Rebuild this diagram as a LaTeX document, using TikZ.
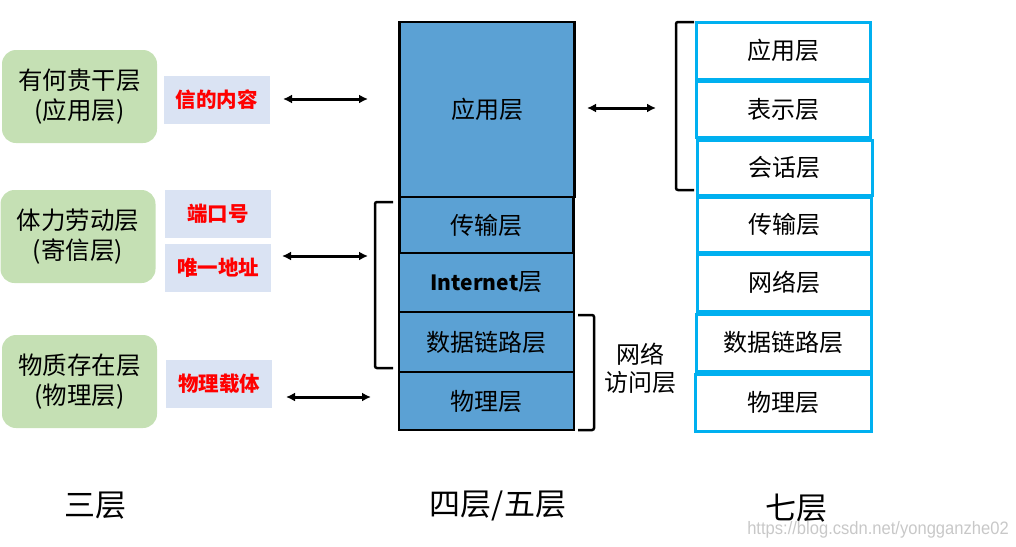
\documentclass[tikz,border=0pt]{standalone}
\usepackage{fontspec}
\setmainfont{Noto Sans CJK SC}
\newfontfamily\wmfont{Liberation Sans}[FakeStretch=0.92]
\usetikzlibrary{arrows.meta}
\definecolor{gbox}{HTML}{C5E0B4}
\definecolor{lbox}{HTML}{DAE3F3}
\definecolor{mblue}{HTML}{5BA1D4}
\definecolor{cyanb}{HTML}{00B0F0}
\definecolor{wm}{HTML}{C8C8C8}
\tikzset{
  greenbox/.style={fill=gbox, rounded corners=14pt, minimum width=155pt, minimum height=93pt, align=center, font=\fontsize{24.5}{30}\selectfont, inner sep=0pt},
  redbox/.style={fill=lbox, minimum width=106pt, minimum height=48pt, text=red, font=\bfseries\fontsize{20.5}{22}\selectfont, inner sep=0pt},
  midbox/.style={fill=mblue, draw=black, line width=2.8pt, minimum width=175pt, align=center, font=\fontsize{24}{26}\selectfont, inner sep=0pt},
  sevbox/.style={fill=white, draw=cyanb, line width=3pt, minimum width=174pt, minimum height=55pt, font=\fontsize{24}{26}\selectfont, inner sep=0pt},
  darrow/.style={{Latex[length=9pt,width=9pt]}-{Latex[length=9pt,width=9pt]}, line width=3pt},
  brk/.style={line width=2.5pt, rounded corners=2pt},
  bottomlbl/.style={font=\fontsize{31}{34}\selectfont},
}
\begin{document}
\begin{tikzpicture}[x=1pt,y=-1pt]
\useasboundingbox (0,0) rectangle (1016,546);
% left column
\node[greenbox] (g1) at (79.5,96.5) {有何贵干层\\(应用层)};
\node[greenbox] (g2) at (78,236.5) {体力劳动层\\(寄信层)};
\node[greenbox] (g3) at (79.5,381.5) {物质存在层\\(物理层)};
\node[redbox] (r1) at (216.5,100) {信的内容};
\node[redbox] (r2) at (218,213.5) {端口号};
\node[redbox] (r3) at (218,267.5) {唯一地址};
\node[redbox] (r4) at (219,383.5) {物理载体};
% middle stack
\node[midbox, minimum height=175pt] (m1) at (487,109.5) {应用层};
\node[midbox, minimum height=56pt, minimum width=174pt] (m2) at (486.5,225) {传输层};
\node[midbox, minimum height=59pt] (m3) at (486.5,282.5) {{\fontsize{21}{24}\selectfont\bfseries Internet}层};
\node[midbox, minimum height=60pt] (m4) at (486.5,342) {数据链路层};
\node[midbox, minimum height=58pt] (m5) at (486.5,401) {物理层};
% right stack
\node[sevbox, minimum height=57pt] (s1) at (783,50.5) {应用层};
\node[sevbox, minimum height=56pt] (s2) at (783,109) {表示层};
\node[sevbox, minimum height=55pt, minimum width=175pt] (s3) at (784.5,167.5) {会话层};
\node[sevbox, minimum height=55pt] (s4) at (784,224.5) {传输层};
\node[sevbox, minimum height=57pt] (s5) at (784,282.5) {网络层};
\node[sevbox, minimum height=57pt, minimum width=175pt] (s6) at (783.5,342.5) {数据链路层};
\node[sevbox, minimum height=57pt, minimum width=176pt] (s7) at (783,402.5) {物理层};
% arrow endpoints
\coordinate (a1l) at (283,99); \coordinate (a1r) at (368,99);
\coordinate (a2l) at (282,256); \coordinate (a2r) at (368,256);
\coordinate (a3l) at (286,397); \coordinate (a3r) at (371,397);
\coordinate (a4l) at (587,108); \coordinate (a4r) at (656,108);
\draw[darrow] (a1l) -- (a1r);
\draw[darrow] (a2l) -- (a2r);
\draw[darrow] (a3l) -- (a3r);
\draw[darrow] (a4l) -- (a4r);
% brackets
\draw[brk] (393,202) -- (375,202) -- (375,368) -- (393,368);
\draw[brk] (578,315) -- (594,315) -- (594,430) -- (578,430);
\draw[brk] (694,22) -- (676,22) -- (676,190) -- (694,190);
\node[align=center, font=\fontsize{24}{28}\selectfont, inner sep=0pt] (na) at (640,368) {网络\\访问层};
% bottom labels
\node[bottomlbl] (b1) at (95,506) {三层};
\node[bottomlbl] (b2) at (498,506) {四层/五层};
\node[bottomlbl] (b3) at (796,508) {七层};
\node[font=\wmfont\fontsize{18}{20}\selectfont, text=wm, inner sep=0pt] (wmk) at (878,530) {https://blog.csdn.net/yongganzhe02};
\end{tikzpicture}
\end{document}
